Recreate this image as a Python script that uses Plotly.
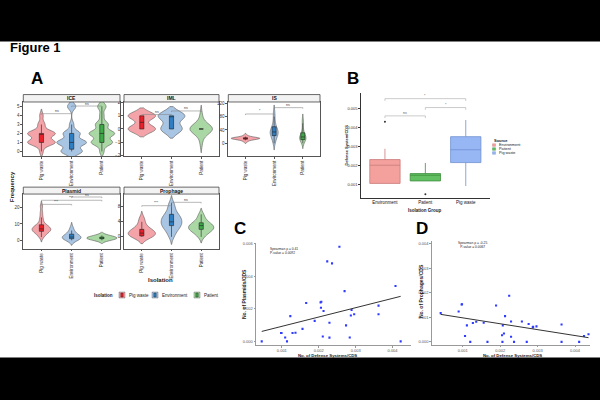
import plotly.graph_objects as go

W, H = 600, 400
FONT = "Liberation Sans, Arial, Helvetica, sans-serif"


def fx(x):
    return x / W


def fy(y):
    return 1 - y / H


# ---------------- Panel A data ----------------
iso_groups = ["Pig waste", "Environment", "Patient"]
facet_names = ["ICE", "IML", "IS", "Plasmid", "Prophage"]

ice_pig = [0, 1, 1, 1, 1, 1, 1, 1, 1, 2, 2, 2, 2, 2, 2, 2, 2, 3, 3, 4]
ice_env = [0, 0, 0, 0, 0, 1, 1, 1, 1, 1, 1, 1, 2, 2, 2, 2, 3, 5, 5]
ice_pat = [0, 1, 1, 1, 1, 1, 2, 2, 2, 2, 2, 2, 3, 3, 3, 4, 5, 5]

iml_pig = [0, 0, 0, 0, 0, 0, 0, 0, 0, 1, 1, 1, 1, 1, 1, 1, 1, 1]
iml_env = [0, 0, 0, 0, 0, 0, 0, 0, 1, 1, 1, 1, 1, 1, 1, 1, 1, 1]
iml_pat = [-1, 0, 0, 0, 0, 0, 0, 0, 0, 0, 0, 1]

is_pig = [5, 9, 11, 12, 13, 14, 14, 15, 15, 15, 16, 16, 17, 18, 20, 24]
is_env = [0, 8, 15, 20, 24, 28, 30, 32, 34, 36, 40, 44, 48, 55, 65, 80, 95]
is_pat = [0, 4, 8, 10, 12, 15, 17, 18, 20, 22, 25, 28, 35, 45, 60, 72]

plasmid_pig = [2, 3, 4, 5, 5, 6, 6, 6, 7, 7, 7, 8, 8, 9, 9, 10, 12, 14, 17, 21]
plasmid_env = [0, 0, 1, 1, 1, 2, 2, 2, 2, 3, 3, 4, 5, 6, 8]
plasmid_pat = [0, 0, 1, 1, 1, 1, 1, 2, 2, 2, 2, 3, 3]

prophage_pig = [0, 0, 0, 0, 1, 1, 1, 1, 1, 2, 2, 2, 3, 4, 5]
prophage_env = [0, 1, 2, 2, 3, 3, 3, 4, 4, 4, 5, 5, 5, 6, 6, 7, 8, 9]
prophage_pat = [0, 1, 1, 2, 2, 2, 2, 3, 3, 3, 3, 4, 4, 5, 6]

ice_ticks = [0, 1, 2, 3, 4, 5]
iml_ticks = [-2, -1, 0, 1, 2]
is_ticks = [0, 40, 80, 120]
plasmid_ticks = [0, 10, 20]
prophage_ticks = [0, 4, 8]

# significance brackets: facet, group a, group b, level, label
a_brackets_facet = [0, 0, 1, 1, 2, 2, 3, 3, 3, 4, 4]
a_brackets_g0 = [0, 1, 0, 1, 0, 1, 0, 0, 1, 0, 1]
a_brackets_g1 = [1, 2, 1, 2, 1, 2, 1, 2, 2, 1, 2]
a_brackets_y = [4.2, 5.05, 1.1, 1.37, 88, 107, 22, 24.5, 26.5, 8.3, 9.2]
a_brackets_lab = ["ns", "ns", "ns", "ns", "*", "ns", "***", "***", "ns", "***", "ns"]

# ---------------- Panel B data ----------------
b_groups = ["Environment", "Patient", "Pig waste"]
b_q1 = [0.00104, 0.00117, 0.00214]
b_median = [0.00200, 0.00147, 0.00282]
b_q3 = [0.00230, 0.00156, 0.00351]
b_lower = [0.00104, 0.00117, 0.00090]
b_upper = [0.00287, 0.00212, 0.00439]
b_out_group = ["Environment", "Patient"]
b_out_y = [0.00430, 0.00046]
b_ticks = [0.001, 0.002, 0.003, 0.004, 0.005]
b_brackets_g0 = [0, 1, 0]
b_brackets_g1 = [2, 2, 1]
b_brackets_y = [0.00552, 0.00505, 0.00461]
b_brackets_lab = ["*", "*", "ns"]

# ---------------- Panel C data ----------------
c_x = [0.000455, 0.00098, 0.00099, 0.00109, 0.00114, 0.00123, 0.00129, 0.00137,
       0.00156, 0.00166, 0.00189, 0.00205, 0.00207, 0.00206, 0.00213, 0.00211,
       0.00223, 0.00229, 0.00229, 0.00236, 0.00256, 0.00270, 0.00274, 0.00284,
       0.00287, 0.00289, 0.00296, 0.00362, 0.00362, 0.00408, 0.00422]
c_y = [0.0, 0.00051, 0.00051, 0.00024, 0.0, 0.00155, 0.00051, 0.00053,
       0.00077, 0.00236, 0.00126, 0.00240, 0.00244, 0.00207, 0.00187, 0.00030,
       0.00492, 0.00114, 0.00023, 0.00480, 0.00582, 0.00309, 0.00098, 0.00024,
       0.00159, 0.00193, 0.00167, 0.00220, 0.00167, 0.00341, 0.0]
c_fit_x = [0.000455, 0.00422]
c_fit_y = [0.00061, 0.00277]
c_xticks = [0.001, 0.002, 0.003, 0.004]
c_yticks = [0.000, 0.002, 0.004, 0.006]

# ---------------- Panel D data ----------------
d_x = [0.00041, 0.00089, 0.00097, 0.00098, 0.00106, 0.00111, 0.00120, 0.00127,
       0.00136, 0.00156, 0.00166, 0.00189, 0.00207, 0.00205, 0.00206, 0.00210,
       0.00213, 0.00224, 0.00229, 0.00229, 0.00237, 0.00258, 0.00271, 0.00276,
       0.00287, 0.00288, 0.00297, 0.00364, 0.00364, 0.00411, 0.00424, 0.00436]
d_y = [0.00117, 0.00124, 0.00152, 0.00153, 0.00024, 0.00067, 0.0, 0.00077,
       0.00082, 0.00078, 0.0, 0.00148, 0.00067, 0.00027, 0.0, 0.00034,
       0.00105, 0.00188, 0.00083, 0.00021, 0.0, 0.00083, 0.0, 0.00073,
       0.00059, 0.00061, 0.00063, 0.00071, 0.0, 0.0, 0.00024, 0.00031]
d_fit_x = [0.00041, 0.00436]
d_fit_y = [0.00112, 0.00017]
d_xticks = [0.001, 0.002, 0.003, 0.004]
d_yticks = [0.000, 0.001, 0.002, 0.003, 0.004]

# ---------------- styles ----------------
violin_fill = ["#F4A3A8", "#A9C5E4", "#AAD8A5"]
box_fill = ["#E8202A", "#2F7EC2", "#3DAA48"]
b_fill = ["#F4A19D", "#62C062", "#97B6F4"]
b_line = ["#C97B78", "#3E8F3E", "#6F8FD2"]

facet_samples = [
    [ice_pig, ice_env, ice_pat],
    [iml_pig, iml_env, iml_pat],
    [is_pig, is_env, is_pat],
    [plasmid_pig, plasmid_env, plasmid_pat],
    [prophage_pig, prophage_env, prophage_pat],
]
facet_ticks = [ice_ticks, iml_ticks, is_ticks, plasmid_ticks, prophage_ticks]
facet_bw = [[0.35, 0.35, 0.35], [0.3, 0.35, 0.4], [3, 10, 8], [1.5, 1.5, 1.0], [0.9, 1.0, 0.8]]
facet_width = [[0.92, 0.98, 0.85], [0.92, 0.9, 0.75], [1.0, 0.28, 0.22], [0.62, 0.62, 1.0], [0.92, 0.7, 0.85]]
facet_yrange = [[-0.5, 5.5], [-2.05, 2.05], [-38, 124], [-5, 28.3], [-3.1, 11.4]]
# pixel boxes: x0, x1, y_top(plot), y_bottom(plot), strip top
facet_px = [
    (23.3, 120, 101, 155.5, 93.5),
    (124, 219, 101, 155.5, 93.5),
    (228.3, 320, 101, 155.5, 93.5),
    (23.3, 120, 194, 249, 187),
    (124, 219, 194, 249, 187),
]

fig = go.Figure()
layout = dict(
    width=W, height=H, margin=dict(l=0, r=0, t=0, b=0),
    paper_bgcolor="white", plot_bgcolor="white",
    font=dict(family=FONT, color="#222"),
    violinmode="overlay", boxmode="overlay", showlegend=False,
)
shapes = []
annotations = []


def ax_names(i):
    return ("x" if i == 1 else f"x{i}", "y" if i == 1 else f"y{i}")


def ax_keys(i):
    return ("xaxis" if i == 1 else f"xaxis{i}", "yaxis" if i == 1 else f"yaxis{i}")


# ---------- panel A ----------
for fi in range(5):
    axn = fi + 1
    xr, yr = ax_names(axn)
    xk, yk = ax_keys(axn)
    x0, x1, yt, yb, st = facet_px[fi]
    for gi, g in enumerate(iso_groups):
        s = facet_samples[fi][gi]
        w = facet_width[fi][gi]
        fig.add_trace(go.Violin(
            x=[g] * len(s), y=s, xaxis=xr, yaxis=yr,
            fillcolor=violin_fill[gi], line=dict(color="#5a5a5a", width=0.6),
            opacity=1, spanmode="soft", bandwidth=facet_bw[fi][gi], width=w,
            scalemode="width", points=False,
            box=dict(visible=True, width=min(0.95, 0.14 / w), fillcolor=box_fill[gi],
                     line=dict(color="#222", width=0.6)),
            meanline=dict(visible=False), showlegend=False, hoverinfo="skip",
        ))
    layout[xk] = dict(
        domain=[fx(x0), fx(x1)], anchor=yr, type="category",
        categoryorder="array", categoryarray=iso_groups, range=[-0.6, 2.6],
        tickangle=-90, tickfont=dict(size=4.5, color="#333"), ticks="outside",
        ticklen=2, tickcolor="#555", showline=True, mirror=True, linecolor="#555",
        linewidth=0.8, showgrid=False, zeroline=False,
    )
    layout[yk] = dict(
        domain=[fy(yb), fy(yt)], anchor=xr, range=facet_yrange[fi],
        tickvals=facet_ticks[fi], tickfont=dict(size=4.5, color="#333"),
        ticks="outside", ticklen=2, tickcolor="#555", showline=True, mirror=True,
        linecolor="#555", linewidth=0.8, showgrid=False, zeroline=False,
    )
    # strip
    shapes.append(dict(type="rect", xref="paper", yref="paper", x0=fx(x0), x1=fx(x1),
                       y0=fy(yt), y1=fy(st), fillcolor="#F2F2F2",
                       line=dict(color="#444", width=0.8)))
    annotations.append(dict(text=f"<b>{facet_names[fi]}</b>", xref="paper", yref="paper",
                            x=fx((x0 + x1) / 2), y=fy((yt + st) / 2), showarrow=False,
                            font=dict(size=5, color="#111"), xanchor="center", yanchor="middle"))

# brackets in A
for k in range(len(a_brackets_facet)):
    axn = a_brackets_facet[k] + 1
    xr, yr = ax_names(axn)
    lo, hi = facet_yrange[a_brackets_facet[k]]
    d = (hi - lo) * 0.02
    g0, g1, yv = a_brackets_g0[k], a_brackets_g1[k], a_brackets_y[k]
    shapes.append(dict(type="path", xref=xr, yref=yr,
                       path=f"M {g0},{yv - d} L {g0},{yv} L {g1},{yv} L {g1},{yv - d}",
                       line=dict(color="#888", width=0.6)))
    annotations.append(dict(text=a_brackets_lab[k], xref=xr, yref=yr, x=(g0 + g1) / 2, y=yv,
                            showarrow=False, yanchor="bottom", yshift=-1.5,
                            font=dict(size=3.5, color="#333")))

annotations += [
    dict(text="<b>Isolation</b>", x=fx(160), y=fy(281), font=dict(size=6)),
    dict(text="<b>Frequency</b>", x=fx(12), y=fy(187), textangle=-90, font=dict(size=6)),
    dict(text="<b>Isolation</b>", x=fx(103), y=fy(296), font=dict(size=4.5)),
]
leg_x = [119, 152, 194]
for gi, g in enumerate(iso_groups):
    lx = leg_x[gi]
    shapes.append(dict(type="rect", xref="paper", yref="paper", x0=fx(lx), x1=fx(lx + 6),
                       y0=fy(299), y1=fy(293), fillcolor=violin_fill[gi],
                       line=dict(color="#555", width=0.4)))
    shapes.append(dict(type="rect", xref="paper", yref="paper", x0=fx(lx + 1.8), x1=fx(lx + 4.2),
                       y0=fy(298), y1=fy(294), fillcolor=box_fill[gi],
                       line=dict(color="#222", width=0.4)))
    annotations.append(dict(text=g, x=fx(lx + 7.5), y=fy(296), xanchor="left",
                            font=dict(size=4.5)))

# ---------- panel B ----------
for gi, g in enumerate(b_groups):
    fig.add_trace(go.Box(
        x=[g], q1=[b_q1[gi]], median=[b_median[gi]], q3=[b_q3[gi]],
        lowerfence=[b_lower[gi]], upperfence=[b_upper[gi]],
        xaxis="x6", yaxis="y6", width=0.75, fillcolor=b_fill[gi],
        line=dict(color=b_line[gi], width=0.8), whiskerwidth=0,
        showlegend=False, hoverinfo="skip", boxpoints=False,
    ))
fig.add_trace(go.Scatter(x=b_out_group, y=b_out_y, mode="markers", xaxis="x6", yaxis="y6",
                         marker=dict(size=2, color="#333"), showlegend=False, hoverinfo="skip"))
layout["xaxis6"] = dict(domain=[fx(360.7), fx(490)], anchor="y6", type="category",
                        categoryorder="array", categoryarray=b_groups, range=[-0.6, 2.6],
                        showline=True, linecolor="#333", linewidth=0.8, ticks="",
                        tickfont=dict(size=4.5, color="#111"), showgrid=False, zeroline=False)
layout["yaxis6"] = dict(domain=[fy(198), fy(91.7)], anchor="x6", range=[0.000267, 0.00583],
                        tickvals=b_ticks, tickformat=".3f", showline=True, linecolor="#333",
                        linewidth=0.8, ticks="outside", ticklen=1.5, tickcolor="#333",
                        tickfont=dict(size=4, color="#333"), showgrid=False, zeroline=False)
for k in range(len(b_brackets_y)):
    g0, g1, yv = b_brackets_g0[k], b_brackets_g1[k], b_brackets_y[k]
    d = 0.00012
    shapes.append(dict(type="path", xref="x6", yref="y6",
                       path=f"M {g0},{yv - d} L {g0},{yv} L {g1},{yv} L {g1},{yv - d}",
                       line=dict(color="#aaa", width=0.6)))
    annotations.append(dict(text=b_brackets_lab[k], xref="x6", yref="y6", x=(g0 + g1) / 2, y=yv,
                            showarrow=False, yanchor="bottom", yshift=-1,
                            font=dict(size=3.5, color="#555")))
annotations += [
    dict(text="<b>B</b>", x=fx(345), y=fy(77), xanchor="left", font=dict(size=17, color="#000")),
    dict(text="<b>Defense System/CDS</b>", x=fx(347), y=fy(145), textangle=-90, font=dict(size=4)),
    dict(text="<b>Isolation Group</b>", x=fx(425), y=fy(211), font=dict(size=4.5)),
    dict(text="<b>Source</b>", x=fx(492), y=fy(140), xanchor="left", font=dict(size=4)),
]
for gi, g in enumerate(b_groups):
    yy = 144.5 + gi * 4
    shapes.append(dict(type="rect", xref="paper", yref="paper", x0=fx(492.5), x1=fx(495.5),
                       y0=fy(yy + 1.3), y1=fy(yy - 1.3), fillcolor=b_fill[gi],
                       line=dict(color=b_line[gi], width=0.4)))
    annotations.append(dict(text=g, x=fx(497), y=fy(yy), xanchor="left", font=dict(size=3.8)))

# ---------- panel C ----------
fig.add_trace(go.Scatter(x=c_x, y=c_y, mode="markers", xaxis="x7", yaxis="y7",
                         marker=dict(size=2.1, color="#2F3BFF", symbol="square"),
                         showlegend=False, hoverinfo="skip"))
fig.add_trace(go.Scatter(x=c_fit_x, y=c_fit_y, mode="lines", xaxis="x7", yaxis="y7",
                         line=dict(color="#333", width=1), showlegend=False, hoverinfo="skip"))
layout["xaxis7"] = dict(domain=[fx(256), fx(411)], anchor="y7", range=[0.0003, 0.0045],
                        tickvals=c_xticks, tickformat=".3f", showline=True, linecolor="#999",
                        linewidth=0.8, ticks="outside", ticklen=1.5, tickcolor="#999",
                        tickfont=dict(size=4, color="#555"), showgrid=False, zeroline=False)
layout["yaxis7"] = dict(domain=[fy(346.7), fy(243)], anchor="x7", range=[-0.00024, 0.00608],
                        tickvals=c_yticks, tickformat=".3f", showline=True, linecolor="#999",
                        linewidth=0.8, ticks="outside", ticklen=1.5, tickcolor="#999",
                        tickfont=dict(size=4, color="#555"), showgrid=False, zeroline=False)
annotations += [
    dict(text="<b>C</b>", x=fx(232), y=fy(229), xanchor="left", font=dict(size=17, color="#000")),
    dict(text="<b>No. of Plasmids/CDS</b>", x=fx(244), y=fy(295), textangle=-90, font=dict(size=5)),
    dict(text="<b>No. of Defense Systems/CDS</b>", x=fx(327), y=fy(356.6), font=dict(size=4.3)),
    dict(text="Spearman ρ = 0.41<br>P-value = 0.0092", x=fx(268), y=fy(252), xanchor="left",
         align="left", font=dict(size=3.3)),
]

# ---------- panel D ----------
fig.add_trace(go.Scatter(x=d_x, y=d_y, mode="markers", xaxis="x8", yaxis="y8",
                         marker=dict(size=2.1, color="#2F3BFF", symbol="square"),
                         showlegend=False, hoverinfo="skip"))
fig.add_trace(go.Scatter(x=d_fit_x, y=d_fit_y, mode="lines", xaxis="x8", yaxis="y8",
                         line=dict(color="#333", width=1), showlegend=False, hoverinfo="skip"))
layout["xaxis8"] = dict(domain=[fx(431.7), fx(590)], anchor="y8", range=[0.00017, 0.0044],
                        tickvals=d_xticks, tickformat=".3f", showline=True, linecolor="#999",
                        linewidth=0.8, ticks="outside", ticklen=1.5, tickcolor="#999",
                        tickfont=dict(size=4, color="#555"), showgrid=False, zeroline=False)
layout["yaxis8"] = dict(domain=[fy(346), fy(241.7)], anchor="x8", range=[-0.00011, 0.0041],
                        tickvals=d_yticks, tickformat=".3f", showline=True, linecolor="#999",
                        linewidth=0.8, ticks="outside", ticklen=1.5, tickcolor="#999",
                        tickfont=dict(size=4, color="#555"), showgrid=False, zeroline=False)
annotations += [
    dict(text="<b>D</b>", x=fx(414), y=fy(229), xanchor="left", font=dict(size=17, color="#000")),
    dict(text="<b>No. of Prophages/CDS</b>", x=fx(421), y=fy(292), textangle=-90, font=dict(size=5)),
    dict(text="<b>No. of Defense Systems/CDS</b>", x=fx(512), y=fy(356.6), font=dict(size=4.3)),
    dict(text="Spearman ρ = -0.25<br>P-value = 0.0067", x=fx(472), y=fy(245.5), xanchor="center",
         align="center", font=dict(size=3.3)),
]

# ---------- titles ----------
annotations += [
    dict(text="<b>Figure 1</b>", x=fx(8), y=fy(46), xanchor="left", font=dict(size=13, color="#000")),
    dict(text="<b>A</b>", x=fx(29), y=fy(77), xanchor="left", font=dict(size=17, color="#000")),
]

# black bars top and bottom
shapes += [
    dict(type="rect", xref="paper", yref="paper", x0=-0.01, x1=1.01, y0=fy(40), y1=1.01,
         fillcolor="black", line=dict(width=0), layer="above"),
    dict(type="rect", xref="paper", yref="paper", x0=-0.01, x1=1.01, y0=-0.01, y1=fy(359),
         fillcolor="black", line=dict(width=0), layer="above"),
]

for a in annotations:
    a.setdefault("xref", "paper")
    a.setdefault("yref", "paper")
    a.setdefault("showarrow", False)
    a.setdefault("xanchor", "center")
    a.setdefault("yanchor", "middle")

layout["shapes"] = shapes
layout["annotations"] = annotations
fig.update_layout(**layout)
fig.write_html(
    "out.html",
    config={"displayModeBar": False},
    post_script="document.body.style.margin='0';document.body.style.overflow='hidden';",
)
